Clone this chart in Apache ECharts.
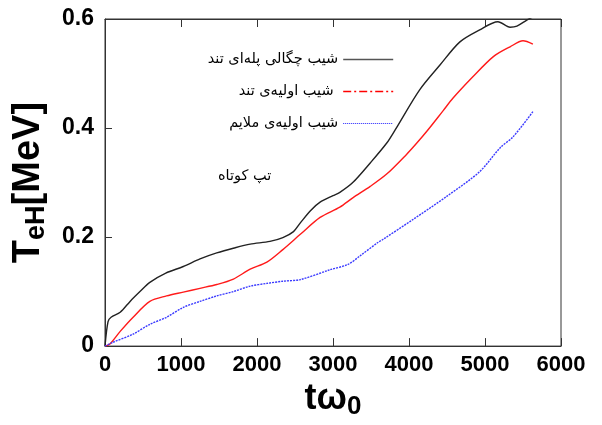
<!DOCTYPE html>
<html><head><meta charset="utf-8">
<script src="https://cdn.jsdelivr.net/npm/echarts@6/dist/echarts.min.js"></script>
<style>html,body{margin:0;padding:0;background:#fff}#c{width:602px;height:425px}</style>
</head><body><div id="c"></div>
<script>
const xTicks = [0, 1000, 2000, 3000, 4000, 5000, 6000];
const yTicks = [0, 0.2, 0.4, 0.6];
const seriesNames = ['شیب چگالی پله\u200cای تند', 'شیب اولیه\u200cی تند ', 'شیب اولیه\u200cی ملایم'];
const annotation = 'تپ کوتاه';

const blackT = [0, 40, 80, 200, 330, 460, 590, 800, 1030, 1250, 1470, 1700, 1910, 2170, 2340, 2480, 2570, 2700, 2830, 3000, 3090, 3260, 3490, 3710, 3820, 4140, 4410, 4670, 4930, 5170, 5330, 5420, 5550, 5620];
const blackV = [0, 0.045, 0.053, 0.062, 0.082, 0.1, 0.117, 0.134, 0.146, 0.16, 0.171, 0.18, 0.187, 0.192, 0.199, 0.21, 0.226, 0.248, 0.264, 0.276, 0.282, 0.3, 0.336, 0.373, 0.397, 0.47, 0.516, 0.558, 0.58, 0.595, 0.585, 0.587, 0.598, 0.603];

const redT = [0, 65, 200, 370, 590, 810, 1030, 1250, 1470, 1690, 1910, 2130, 2340, 2570, 2830, 3090, 3260, 3490, 3710, 3970, 4100, 4240, 4450, 4580, 4840, 5110, 5330, 5500, 5630];
const redV = [0, 0.004, 0.027, 0.053, 0.082, 0.092, 0.099, 0.106, 0.113, 0.123, 0.141, 0.154, 0.177, 0.205, 0.236, 0.255, 0.272, 0.293, 0.316, 0.352, 0.372, 0.395, 0.432, 0.455, 0.494, 0.531, 0.549, 0.56, 0.554];

const blueT = [0, 105, 370, 590, 810, 1030, 1250, 1470, 1690, 1910, 2130, 2340, 2570, 2960, 3200, 3360, 3590, 3660, 4050, 4500, 4930, 5200, 5370, 5630];
const blueV = [0, 0.007, 0.022, 0.04, 0.053, 0.071, 0.082, 0.092, 0.1, 0.11, 0.115, 0.119, 0.122, 0.14, 0.15, 0.166, 0.19, 0.196, 0.232, 0.275, 0.32, 0.364, 0.384, 0.43];

const zip = (a, b) => a.map((v, i) => [v, b[i]]);
const numFont = "'Liberation Sans',Arial,sans-serif";
const faFont = "'DejaVu Sans','Noto Sans',sans-serif";

const chart = echarts.init(document.getElementById('c'), null, {renderer: 'canvas'});
chart.setOption({
  animation: false,
  backgroundColor: '#fff',
  grid: {left: 105, right: 41, top: 19, bottom: 78, show: true, borderColor: '#333', borderWidth: 1, containLabel: false},
  legend: {
    orient: 'vertical', right: 203, top: 47, align: 'right',
    itemWidth: 50, itemHeight: 12, itemGap: 17,
    textStyle: {fontFamily: faFont, fontSize: 14.5, color: '#000'},
    data: [
      {name: seriesNames[0], itemStyle: {opacity: 0}, lineStyle: {color: '#555555', width: 1.6, type: 'solid', opacity: 1}},
      {name: seriesNames[1], itemStyle: {opacity: 0, color: '#ff0000'}, lineStyle: {color: '#ff0000', width: 1.4, type: [8, 3, 2, 3], opacity: 1}},
      {name: seriesNames[2], itemStyle: {opacity: 0, color: '#2020ff'}, lineStyle: {color: '#2020ff', width: 1.2, type: [1, 1], opacity: 1}}
    ]
  },
  graphic: [{type: 'text', left: 218, top: 169, style: {text: annotation, font: '14.5px ' + faFont, fill: '#000'}}],
  xAxis: [{
    type: 'value', min: 0, max: 6000, interval: 1000,
    name: '{t|tω}{s|0}', nameLocation: 'middle', nameGap: 30,
    nameTextStyle: {rich: {
      t: {fontFamily: numFont, fontWeight: 'bold', fontSize: 36, color: '#000'},
      s: {fontFamily: numFont, fontWeight: 'bold', fontSize: 26, color: '#000', padding: [16, 0, 0, 0]}
    }},
    axisLine: {show: true, lineStyle: {color: '#333'}},
    axisTick: {show: true, inside: true, length: 8, lineStyle: {color: '#333'}},
    axisLabel: {fontFamily: numFont, fontWeight: 'bold', fontSize: 22, color: '#000', margin: 8,
      formatter: v => String(Math.round(v))},
    splitLine: {show: false}
  }, {
    type: 'value', position: 'top', min: 0, max: 6000, interval: 1000,
    axisLine: {show: true, lineStyle: {color: '#333'}},
    axisTick: {show: true, inside: true, length: 8, lineStyle: {color: '#333'}},
    axisLabel: {show: false}, splitLine: {show: false}
  }],
  yAxis: {
    type: 'value', min: 0, max: 0.6, interval: 0.2,
    name: '{t|T}{s|eH}{t|[MeV]}', nameLocation: 'middle', nameRotate: 90, nameGap: 55,
    nameTextStyle: {rich: {
      t: {fontFamily: numFont, fontWeight: 'bold', fontSize: 38, color: '#000'},
      s: {fontFamily: numFont, fontWeight: 'bold', fontSize: 27, color: '#000', padding: [15, 0, 0, 0]}
    }},
    axisLine: {show: true, lineStyle: {color: '#333'}},
    axisTick: {show: true, inside: true, length: 7, lineStyle: {color: '#333'}},
    axisLabel: {fontFamily: numFont, fontWeight: 'bold', fontSize: 23, color: '#000', margin: 11,
      formatter: v => (v === 0 ? '0' : v.toFixed(1))},
    splitLine: {show: false}
  },
  series: [
    {name: seriesNames[0], type: 'line', data: zip(blackT, blackV), symbol: 'none', smooth: 0.3, clip: true,
      lineStyle: {color: '#222', width: 1.4}, itemStyle: {color: '#222'}},
    {name: seriesNames[1], type: 'line', data: zip(redT, redV), symbol: 'none', smooth: 0.3,
      lineStyle: {color: '#ff1a1a', width: 1.4}, itemStyle: {color: '#ff1a1a'}},
    {name: seriesNames[2], type: 'line', data: zip(blueT, blueV), symbol: 'none', smooth: 0.3,
      lineStyle: {color: '#3a3aff', width: 1.4, type: [2, 1]}, itemStyle: {color: '#3a3aff'}}
  ]
});
</script></body></html>
